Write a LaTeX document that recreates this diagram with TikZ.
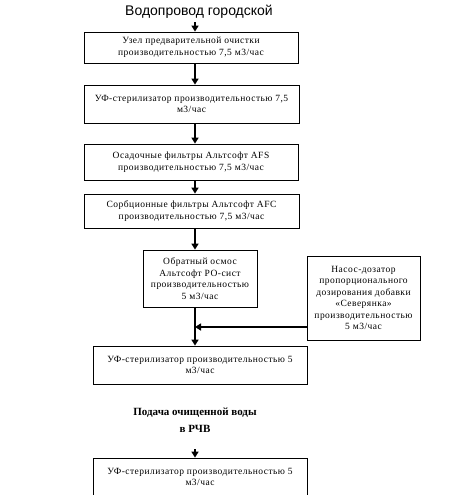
\documentclass[tikz,border=0pt]{standalone}
\usepackage{fontspec}
\setmainfont{Liberation Serif}
\newfontfamily\titlefont{Liberation Sans}
\newfontfamily\boxfont[LetterSpace=5]{Liberation Serif}
\usetikzlibrary{arrows.meta}
\begin{document}
\begin{tikzpicture}[x=1pt,y=-1pt,
  box/.style={draw, line width=0.8pt, align=center, inner sep=0pt,
    font=\boxfont\fontsize{9.5}{11.5}\selectfont},
  arr/.style={line width=1.8pt, -{Triangle[length=6pt,width=7pt]}},
  conn/.style={line width=1.8pt}]
\useasboundingbox (0,0) rectangle (454,495);
\coordinate (mx) at (195,0);
\node[font=\titlefont\fontsize{14}{16}\selectfont] (title) at (199,12) {Водопровод городской};
\node[box, minimum width=214pt, minimum height=31pt] (b1) at (191,47.5)
  {Узел предварительной очистки\\производительностью 7,5 м3/час};
\node[box, minimum width=215pt, minimum height=38pt] (b2) at (191.5,104)
  {УФ-стерилизатор производительностью 7,5\\м3/час};
\node[box, minimum width=214pt, minimum height=36pt] (b3) at (191,162)
  {Осадочные фильтры Альтсофт AFS\\производительностью 7,5 м3/час};
\node[box, minimum width=215pt, minimum height=34pt] (b4) at (191.5,211)
  {Сорбционные фильтры Альтсофт AFC\\производительностью 7,5 м3/час};
\node[box, minimum width=114pt, minimum height=57pt] (b5) at (200,278.5)
  {Обратный осмос\\Альтсофт РО-сист\\производительностью\\5 м3/час};
\node[box, minimum width=113pt, minimum height=84pt] (b6) at (363.5,298)
  {Насос-дозатор\\пропорционального\\дозирования добавки\\«Северянка»\\производительностью\\5 м3/час};
\node[box, minimum width=214pt, minimum height=38pt] (b7) at (200,365)
  {УФ-стерилизатор производительностью 5\\м3/час};
\node[font=\bfseries\fontsize{11}{17}\selectfont, align=center] (feed) at (195,420)
  {Подача очищенной воды\\в РЧВ};
\node[box, minimum width=214pt, minimum height=38pt] (b8) at (200,477)
  {УФ-стерилизатор производительностью 5\\м3/час};
\coordinate (j) at (195,327);
\draw[arr] (title.south -| mx) -- (b1.north -| mx);
\draw[arr] (b1.south -| mx) -- (b2.north -| mx);
\draw[arr] (b2.south -| mx) -- (b3.north -| mx);
\draw[arr] (b3.south -| mx) -- (b4.north -| mx);
\draw[arr] (b4.south -| mx) -- (b5.north -| mx);
\draw[arr] (b5.south -| mx) -- (b7.north -| mx);
\draw[arr] (b6.west |- j) -- (j);
\draw[arr] (195,449) coordinate (fa) -- (b8.north -| fa);
\end{tikzpicture}
\end{document}
